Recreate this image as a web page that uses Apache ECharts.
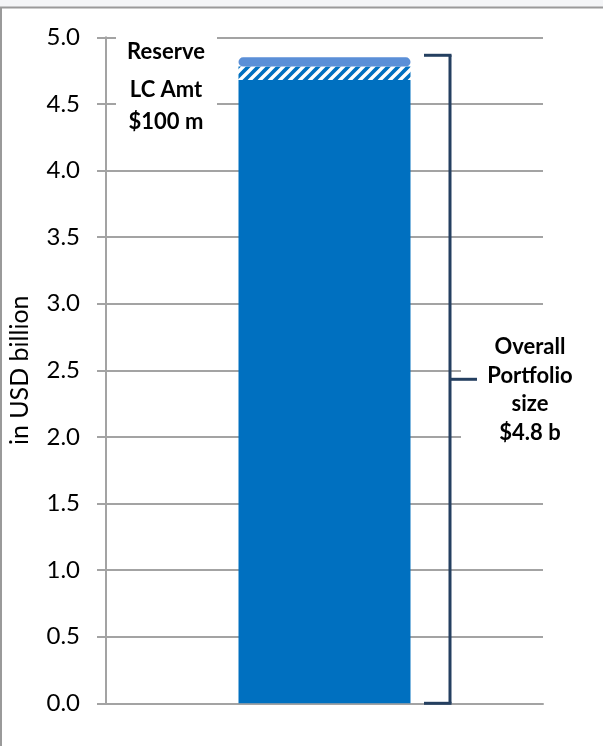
<!DOCTYPE html>
<html>
<head>
<meta charset="utf-8">
<script src="https://cdn.jsdelivr.net/npm/echarts@6/dist/echarts.min.js"></script>
<style>
  html, body { margin: 0; padding: 0; background: #ffffff; }
  #chart { width: 603px; height: 746px; }
</style>
</head>
<body>
<div id="chart"></div>
<script>
// Portfolio composition, in USD billion
const categories = ['Portfolio'];
const coreValues = [4.68];      // funded portfolio
const reserveValues = [0.10];   // reserve letter-of-credit amount
const capValues = [0.07];       // top cap segment
const axisMin = 0;
const axisMax = 5;
const axisStep = 0.5;
const axisTitle = 'in USD billion';
const reserveLabel = ['Reserve', 'LC Amt', '$100 m'];
const totalLabel = ['Overall', 'Portfolio', 'size', '$4.8 b'];

const FONT = 'Lato';
const GRID_COLOR = '#a3a3a3';
const BLUE = '#0070C0';
const LIGHT_BLUE = '#5B8FD7';
const NAVY = '#243F60';

// diagonal white hatching for the reserve segment
function hatchPattern() {
  const s = 10;
  const c = document.createElement('canvas');
  c.width = s; c.height = s;
  const g = c.getContext('2d');
  g.fillStyle = BLUE;
  g.fillRect(0, 0, s, s);
  g.strokeStyle = '#ffffff';
  g.lineWidth = 3.4;
  g.beginPath();
  g.moveTo(-2, s + 2); g.lineTo(s + 2, -2);
  g.moveTo(-s / 2 - 2, s / 2 + 2); g.lineTo(s / 2 + 2, -s / 2 - 2);
  g.moveTo(s / 2 - 2, 1.5 * s + 2); g.lineTo(1.5 * s + 2, s / 2 - 2);
  g.stroke();
  return c;
}

const chart = echarts.init(document.getElementById('chart'), null, { renderer: 'canvas' });

const valueAxisBase = {
  type: 'value',
  min: axisMin,
  max: axisMax,
  interval: axisStep,
  position: 'left'
};

chart.setOption({
  animation: false,
  backgroundColor: '#ffffff',
  grid: { left: 106, right: 60, top: 37.3, bottom: 42.7, outerBoundsMode: 'none', containLabel: false },
  xAxis: {
    type: 'category',
    data: categories,
    axisLine: { show: true, lineStyle: { color: GRID_COLOR, width: 2 } },
    axisTick: { show: false },
    axisLabel: { show: false },
    splitLine: { show: false }
  },
  yAxis: [
    Object.assign({}, valueAxisBase, {
      name: axisTitle,
      nameLocation: 'middle',
      nameGap: 74,
      nameTextStyle: { fontFamily: FONT, fontSize: 25, color: '#000' },
      axisLine: { show: true, lineStyle: { color: GRID_COLOR, width: 2 } },
      axisTick: { show: true, inside: false, length: 9, lineStyle: { color: GRID_COLOR, width: 2 } },
      axisLabel: {
        margin: 26,
        fontFamily: FONT,
        fontSize: 24,
        color: '#000',
        formatter: v => v.toFixed(1)
      },
      splitLine: { show: true, lineStyle: { color: GRID_COLOR, width: 2 } }
    }),
    // inner half of the crossing tick marks
    Object.assign({}, valueAxisBase, {
      axisLine: { show: false },
      axisTick: { show: true, inside: true, length: 9, lineStyle: { color: GRID_COLOR, width: 2 } },
      axisLabel: { show: false },
      splitLine: { show: false }
    })
  ],
  series: [
    {
      type: 'bar',
      stack: 'total',
      barWidth: 172,
      data: coreValues,
      itemStyle: { color: BLUE }
    },
    {
      type: 'bar',
      stack: 'total',
      barWidth: 172,
      data: reserveValues,
      itemStyle: { color: { image: hatchPattern(), repeat: 'repeat' } }
    },
    {
      type: 'bar',
      stack: 'total',
      barWidth: 172,
      data: capValues,
      itemStyle: {
        color: LIGHT_BLUE,
        borderColor: LIGHT_BLUE,
        borderWidth: 4,
        borderRadius: 3
      }
    }
  ]
});

// annotations: label boxes and the bracket spanning the whole stack
const total = coreValues[0] + reserveValues[0] + capValues[0];
const yTop = chart.convertToPixel({ yAxisIndex: 0 }, total) - 2;
const yBottom = chart.convertToPixel({ yAxisIndex: 0 }, 0);
const yMid = (yTop + yBottom) / 2;
const bx = 450;

const navyLine = { stroke: NAVY, lineWidth: 3 };
const boldText = (text, x, y) => ({
  type: 'text',
  x: x, y: y,
  style: {
    text: text,
    fontFamily: FONT,
    fontWeight: 'bold',
    fontSize: 22,
    fill: '#000',
    align: 'center',
    verticalAlign: 'middle'
  },
  z: 20
});

const elements = [
  // page strip and frame
  { type: 'rect', shape: { x: 0, y: 0, width: 603, height: 7 }, style: { fill: '#f4f5f7' }, z: 30 },
  { type: 'line', shape: { x1: 0, y1: 7.5, x2: 603, y2: 7.5 }, style: { stroke: '#9a9a9a', lineWidth: 2 }, z: 30 },
  { type: 'line', shape: { x1: 1, y1: 7, x2: 1, y2: 746 }, style: { stroke: '#9a9a9a', lineWidth: 2 }, z: 30 },
  // white boxes behind the labels
  { type: 'rect', shape: { x: 116, y: 28, width: 101, height: 112 }, style: { fill: '#ffffff' }, z: 10 },
  { type: 'rect', shape: { x: 461, y: 325, width: 142, height: 130 }, style: { fill: '#ffffff' }, z: 10 },
  // bracket
  { type: 'line', shape: { x1: bx, y1: yTop, x2: bx, y2: yBottom }, style: navyLine, z: 15 },
  { type: 'line', shape: { x1: 424, y1: yTop, x2: bx + 1.5, y2: yTop }, style: navyLine, z: 15 },
  { type: 'line', shape: { x1: 424, y1: yBottom, x2: bx + 1.5, y2: yBottom }, style: navyLine, z: 15 },
  { type: 'line', shape: { x1: bx, y1: yMid, x2: 477, y2: yMid }, style: navyLine, z: 15 }
];

const leftLines = [52, 90, 122];
reserveLabel.forEach((t, i) => elements.push(boldText(t, 166, leftLines[i])));
const rightLines = [347, 376, 404, 433];
totalLabel.forEach((t, i) => elements.push(boldText(t, 530, rightLines[i])));

chart.setOption({ graphic: { elements: elements } });
</script>
</body>
</html>
